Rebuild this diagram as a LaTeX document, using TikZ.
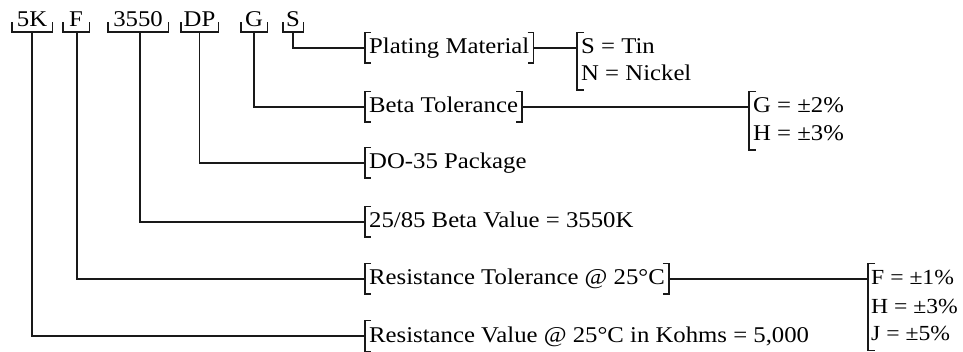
\documentclass[tikz,border=0pt]{standalone}
\usepackage{fontspec}
\setmainfont[FakeStretch=1.1]{Liberation Serif}
\begin{document}
\begin{tikzpicture}[x=1pt,y=-1pt,
  every node/.style={font=\fontsize{22.5}{27}\selectfont, text=black},
  line/.style={line width=1.4pt, draw=black!90},
  toplab/.style={anchor=base, inner sep=0pt, text depth=0pt},
  lab/.style={anchor=west, inner xsep=4pt, inner ysep=4pt, text height=17pt, text depth=5pt},
  narrow/.style={font=\fontsize{21.5}{27}\selectfont, inner xsep=3pt},
]
\useasboundingbox (0,0) rectangle (963,352);

% top code labels
\node[toplab, minimum width=40pt] (k5) at (32,27) {5K};
\node[toplab, minimum width=26pt] (kf) at (76,27) {F};
\node[toplab, minimum width=60pt] (k3) at (138,27) {3550};
\node[toplab, minimum width=37pt] (kd) at (199.5,27) {DP};
\node[toplab, minimum width=26pt] (kg) at (254,27) {G};
\node[toplab, minimum width=20pt] (ks) at (293,27) {S};
\foreach \n in {k5,kf,k3,kd,kg,ks}{
  \draw[line] ([yshift=5pt]\n.south west) -- ([yshift=-5pt]\n.south west)
     -- ([yshift=-5pt]\n.south east) -- ([yshift=5pt]\n.south east);
}

% description labels
\node[lab] (pm) at (365,48) {Plating Material};
\node[lab] (bt) at (365,107) {Beta Tolerance};
\node[lab] (dp) at (365,163) {DO-35 Package};
\node[lab] (bv) at (365,222) {25/85 Beta Value = 3550K};
\node[lab] (rt) at (365,279) {Resistance Tolerance @ 25°C};
\node[lab] (rv) at (365,336) {Resistance Value @ 25°C in Kohms = 5,000};
\foreach \n in {pm,bt,dp,bv,rt,rv}{
  \draw[line] ([xshift=6pt]\n.north west) -- (\n.north west) -- (\n.south west) -- ([xshift=6pt]\n.south west);
}
\foreach \n in {pm,bt,rt}{
  \draw[line] ([xshift=-6pt]\n.north east) -- (\n.north east) -- (\n.south east) -- ([xshift=-6pt]\n.south east);
}

% value lists
\node[lab] (s1) at (577,48) {S = Tin};
\node[lab] (s2) at (577,75) {N = Nickel};
\node[lab] (g1) at (749,107) {G = ±2\%};
\node[lab] (g2) at (749,135) {H = ±3\%};
\node[lab, narrow] (f1) at (868,279) {F = ±1\%};
\node[lab, narrow] (f2) at (868,307) {H = ±3\%};
\node[lab, narrow] (f3) at (868,335) {J = ±5\%};
\draw[line] ([xshift=7pt]s1.north west) -- (s1.north west) -- (s2.south west) -- ([xshift=7pt]s2.south west);
\draw[line] ([xshift=7pt]g1.north west) -- (g1.north west) -- (g2.south west) -- ([xshift=7pt]g2.south west);
\draw[line] ([xshift=7pt]f1.north west) -- (f1.north west) -- (f3.south west) -- ([xshift=7pt]f3.south west);

% connectors
\draw[line] ([yshift=-5pt]ks.south) |- (pm.west);
\draw[line] ([yshift=-5pt]kg.south) |- (bt.west);
\draw[line] ([yshift=-5pt]kd.south) |- (dp.west);
\draw[line] ([yshift=-5pt,xshift=2pt]k3.south) |- (bv.west);
\draw[line] ([yshift=-5pt,xshift=1pt]kf.south) |- (rt.west);
\draw[line] ([yshift=-5pt]k5.south) |- (rv.west);
\draw[line] (pm.east) -- (s1.west);
\draw[line] (bt.east) -- (g1.west);
\draw[line] (rt.east) -- (f1.west);
\end{tikzpicture}
\end{document}
